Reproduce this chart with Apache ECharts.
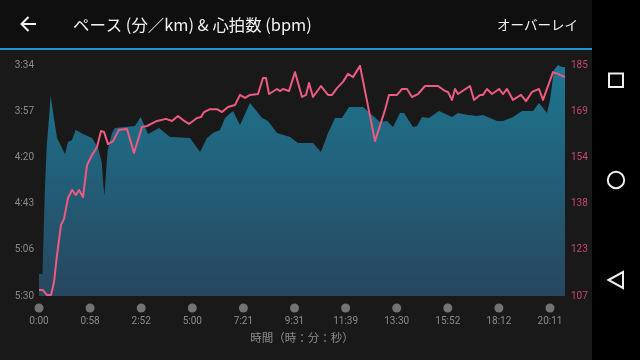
<!DOCTYPE html>
<html><head><meta charset="utf-8">
<style>html,body{margin:0;padding:0;background:#191919}#c{width:640px;height:360px}</style>
<script src="https://cdn.jsdelivr.net/npm/echarts@6/dist/echarts.min.js"></script>
</head><body><div id="c"></div>
<script>
// time axis position (samples), tick every 51.1 samples
const timeLabels = ['0:00','0:58','2:52','5:00','7:21','9:31','11:39','13:30','15:52','18:12','20:11'];
const tickStep = 51.1;
const axisEnd = 526;
const paceTicks = [214,237.2,260.4,283.6,306.8,330];
const hrTicks = [107,122.6,138.2,153.8,169.4,185];
// pace: seconds per km
const paceX = [0,3.5,4,5,6,7.7,11.7,14,18,26,29,33,36.7,44,53,59,62.7,64.5,65.5,67.7,68.7,73,76,96,101.7,109,120,131,151,161,168,174,181,186,194,201,211,223,229,238,251,259,274,282,289,296,303,310,324,341,348,354,361,365,374,378,383,390,400,413,419,429,438,444,458,464,474,483,494,500,508,511,515,519,523,526];
const paceSec = [319,319,309.4,291.8,275.3,255.2,229.6,237.6,250.7,258.7,252.7,251.7,246.6,248.7,250.7,255.7,262.7,275.3,279.3,263.2,256.7,248.1,245.6,244.6,240.1,248.7,245.6,250.2,250.7,257.7,250.7,248.1,246.6,240.6,237.1,244.1,233.1,240.6,242.1,248.1,250.2,253.2,253.2,257.7,248.1,240.6,240.6,235.1,235.1,242.6,242.1,245.1,238.1,238.1,245.1,244.6,240.1,240.6,237.1,240.1,238.1,239.1,239.6,239.1,242.1,242.1,240.1,237.1,237.1,233.1,238.1,231.6,216.5,214,215,215];
// heart rate: bpm
const hrX = [0,4,8,12,15,18,22,25,29,33,37,40,44,48,53,58,62,65,69,74,80,88,95,103,108,118,127,133,139,144,150,158,162,165,171,178,183,189,196,201,206,211,219,224,227,230,238,241,244,250,256,263,267,270,274,282,289,293,298,304,309,314,321,336,346,350,358,363,368,373,379,386,399,406,409,413,416,419,431,435,441,444,448,453,460,464,468,474,482,487,489,493,500,504,514,519,526];
const hrBpm = [109,109,107.3,107.3,111.7,120.8,131,133,140.1,142.8,141.1,142.8,140.4,151.2,154.6,157.3,162.7,162.4,158.3,159.3,163.1,163.4,155.3,164.1,164.4,166.1,166.8,166.1,167.8,166.4,165.1,167.1,167.4,169.1,170.1,170.1,169.1,170.8,171.5,174.9,173.9,174.9,175.2,180.6,180.6,175.2,176.9,176.2,176.9,176.2,182.6,174.2,174.9,178.9,174.2,177.9,174.9,174.9,177.2,179.3,182,180.9,184.7,159.3,169.8,174.9,174.9,176.9,176.9,174.2,175.2,177.9,177.9,176.2,175.9,173.2,176.9,175.2,177.9,173.2,174.9,174.9,176.9,175.2,176.9,175.2,176.9,173.2,174.9,172.8,172.8,175.9,176.9,173.2,182.6,182,180.9];
const titleText = 'ペース (分／km) & 心拍数 (bpm)';
const overlayText = 'オーバーレイ';
const xName = '時間（時：分：秒）';

const fontCJK = '"Noto Sans CJK JP","Noto Sans",sans-serif';
const mmss = v => { const s = Math.floor(v); return Math.floor(s/60) + ':' + String(s%60).padStart(2,'0'); };
const white = '#f2f2f2';
const chart = echarts.init(document.getElementById('c'), null, {renderer:'canvas'});
chart.setOption({
  animation:false,
  backgroundColor:'#191919',
  grid:[
    {left:39,right:75,top:65,bottom:64},
    {left:39,right:75,top:303,height:10}
  ],
  xAxis:[
    {type:'value',gridIndex:0,min:0,max:axisEnd,interval:tickStep,
     axisLine:{show:false},axisTick:{show:false},splitLine:{show:false},
     axisLabel:{color:'#8c8c8c',fontFamily:'Roboto',fontSize:10,margin:20,showMaxLabel:false,
       formatter:v=>timeLabels[Math.round(v/tickStep)]||''},
     name:xName,nameLocation:'middle',nameGap:36,
     nameTextStyle:{color:'#8c8c8c',fontFamily:fontCJK,fontSize:11.5}},
    {type:'value',gridIndex:1,min:0,max:axisEnd,show:false}
  ],
  yAxis:[
    {type:'value',gridIndex:0,inverse:true,min:214,max:330,
     axisLine:{show:false},axisTick:{show:false},splitLine:{show:false},
     axisLabel:{customValues:paceTicks,color:'#8c8c8c',fontFamily:'Roboto',fontSize:10,margin:5,formatter:mmss}},
    {type:'value',gridIndex:0,position:'right',min:107,max:185,
     axisLine:{show:false},axisTick:{show:false},splitLine:{show:false},
     axisLabel:{customValues:hrTicks,color:'#c8486a',fontFamily:'Roboto',fontSize:10,margin:6,formatter:v=>String(Math.round(v))}},
    {type:'value',gridIndex:1,min:-1,max:1,show:false}
  ],
  series:[
    {type:'line',name:'pace',xAxisIndex:0,yAxisIndex:0,symbol:'none',
     data:paceX.map((x,i)=>[x,paceSec[i]]),
     lineStyle:{width:0},
     areaStyle:{origin:'end',opacity:1,color:new echarts.graphic.LinearGradient(0,0,0,1,[{offset:0,color:'#1d7690'},{offset:1,color:'#27465f'}])}},
    {type:'line',name:'hr',xAxisIndex:0,yAxisIndex:1,symbol:'none',
     data:hrX.map((x,i)=>[x,hrBpm[i]]),
     lineStyle:{width:2,color:'#ee5a80',join:'round'},z:3},
    {type:'scatter',xAxisIndex:1,yAxisIndex:2,symbol:'circle',symbolSize:9,
     itemStyle:{color:'#8a8a8a'},
     data:timeLabels.map((_,i)=>[i*tickStep,0])}
  ],
  graphic:[
    {type:'rect',shape:{x:0,y:0,width:592,height:48},style:{fill:'#0f0f0f'},z:10},
    {type:'rect',shape:{x:0,y:48,width:592,height:2},style:{fill:'#2096d4'},z:10},
    {type:'rect',shape:{x:592,y:0,width:48,height:360},style:{fill:'#000'},z:10},
    {type:'polyline',shape:{points:[[36,24],[21.5,24]]},style:{stroke:white,lineWidth:2,fill:null},z:11},
    {type:'polyline',shape:{points:[[28.5,17],[21.5,24],[28.5,31]]},style:{stroke:white,lineWidth:2,fill:null},z:11},
    {type:'text',x:73,y:25,style:{text:titleText,fill:white,font:'16.4px '+fontCJK,textVerticalAlign:'middle'},z:11},
    {type:'text',x:497,y:25,style:{text:overlayText,fill:white,font:'13.5px '+fontCJK,textVerticalAlign:'middle'},z:11},
    {type:'rect',shape:{x:609,y:73.5,width:14,height:13.5},style:{stroke:'#eee',lineWidth:2,fill:null},z:11},
    {type:'circle',shape:{cx:616,cy:180,r:8.2},style:{stroke:'#eee',lineWidth:2,fill:null},z:11},
    {type:'polygon',shape:{points:[[608.5,280],[623,272],[623,288]]},style:{stroke:'#eee',lineWidth:2,fill:null},z:11}
  ]
});
</script></body></html>
